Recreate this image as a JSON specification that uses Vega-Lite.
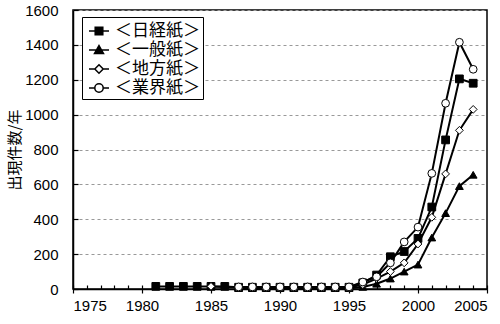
{
  "$schema": "https://vega.github.io/schema/vega-lite/v6.json",
  "width": 414,
  "height": 279,
  "autosize": {"type": "none"},
  "padding": {"left": 73, "top": 10, "right": 13, "bottom": 35},
  "background": "white",
  "config": {
    "view": {"stroke": "black", "strokeWidth": 1.5},
    "font": "Liberation Sans",
    "axis": {"domainColor": "black", "domainWidth": 1.5, "tickColor": "black", "tickWidth": 1.2, "labelColor": "black", "titleColor": "black", "labelFontSize": 15, "labelFont": "Liberation Sans"}
  },
  "data": {"values": [
    {"year": 1981, "series": "＜日経紙＞", "value": 15},
    {"year": 1982, "series": "＜日経紙＞", "value": 15},
    {"year": 1983, "series": "＜日経紙＞", "value": 15},
    {"year": 1984, "series": "＜日経紙＞", "value": 15},
    {"year": 1985, "series": "＜日経紙＞", "value": 15},
    {"year": 1986, "series": "＜日経紙＞", "value": 15},
    {"year": 1987, "series": "＜日経紙＞", "value": 10},
    {"year": 1988, "series": "＜日経紙＞", "value": 10},
    {"year": 1989, "series": "＜日経紙＞", "value": 10},
    {"year": 1990, "series": "＜日経紙＞", "value": 10},
    {"year": 1991, "series": "＜日経紙＞", "value": 10},
    {"year": 1992, "series": "＜日経紙＞", "value": 10},
    {"year": 1993, "series": "＜日経紙＞", "value": 10},
    {"year": 1994, "series": "＜日経紙＞", "value": 10},
    {"year": 1995, "series": "＜日経紙＞", "value": 10},
    {"year": 1996, "series": "＜日経紙＞", "value": 35},
    {"year": 1997, "series": "＜日経紙＞", "value": 80},
    {"year": 1998, "series": "＜日経紙＞", "value": 185},
    {"year": 1999, "series": "＜日経紙＞", "value": 215},
    {"year": 2000, "series": "＜日経紙＞", "value": 290},
    {"year": 2001, "series": "＜日経紙＞", "value": 470},
    {"year": 2002, "series": "＜日経紙＞", "value": 855},
    {"year": 2003, "series": "＜日経紙＞", "value": 1205},
    {"year": 2004, "series": "＜日経紙＞", "value": 1180},
    {"year": 1987, "series": "＜一般紙＞", "value": 5},
    {"year": 1988, "series": "＜一般紙＞", "value": 5},
    {"year": 1989, "series": "＜一般紙＞", "value": 5},
    {"year": 1990, "series": "＜一般紙＞", "value": 5},
    {"year": 1991, "series": "＜一般紙＞", "value": 5},
    {"year": 1992, "series": "＜一般紙＞", "value": 5},
    {"year": 1993, "series": "＜一般紙＞", "value": 5},
    {"year": 1994, "series": "＜一般紙＞", "value": 5},
    {"year": 1995, "series": "＜一般紙＞", "value": 5},
    {"year": 1996, "series": "＜一般紙＞", "value": 12},
    {"year": 1997, "series": "＜一般紙＞", "value": 30},
    {"year": 1998, "series": "＜一般紙＞", "value": 60},
    {"year": 1999, "series": "＜一般紙＞", "value": 100},
    {"year": 2000, "series": "＜一般紙＞", "value": 140},
    {"year": 2001, "series": "＜一般紙＞", "value": 295},
    {"year": 2002, "series": "＜一般紙＞", "value": 435},
    {"year": 2003, "series": "＜一般紙＞", "value": 590},
    {"year": 2004, "series": "＜一般紙＞", "value": 655},
    {"year": 1985, "series": "＜地方紙＞", "value": 15},
    {"year": 1987, "series": "＜地方紙＞", "value": 8},
    {"year": 1988, "series": "＜地方紙＞", "value": 8},
    {"year": 1989, "series": "＜地方紙＞", "value": 8},
    {"year": 1990, "series": "＜地方紙＞", "value": 8},
    {"year": 1991, "series": "＜地方紙＞", "value": 8},
    {"year": 1992, "series": "＜地方紙＞", "value": 8},
    {"year": 1993, "series": "＜地方紙＞", "value": 8},
    {"year": 1994, "series": "＜地方紙＞", "value": 8},
    {"year": 1995, "series": "＜地方紙＞", "value": 8},
    {"year": 1996, "series": "＜地方紙＞", "value": 25},
    {"year": 1997, "series": "＜地方紙＞", "value": 60},
    {"year": 1998, "series": "＜地方紙＞", "value": 100},
    {"year": 1999, "series": "＜地方紙＞", "value": 150},
    {"year": 2000, "series": "＜地方紙＞", "value": 258},
    {"year": 2001, "series": "＜地方紙＞", "value": 411},
    {"year": 2002, "series": "＜地方紙＞", "value": 660},
    {"year": 2003, "series": "＜地方紙＞", "value": 910},
    {"year": 2004, "series": "＜地方紙＞", "value": 1030},
    {"year": 1987, "series": "＜業界紙＞", "value": 12},
    {"year": 1988, "series": "＜業界紙＞", "value": 12},
    {"year": 1989, "series": "＜業界紙＞", "value": 12},
    {"year": 1990, "series": "＜業界紙＞", "value": 12},
    {"year": 1991, "series": "＜業界紙＞", "value": 12},
    {"year": 1992, "series": "＜業界紙＞", "value": 12},
    {"year": 1993, "series": "＜業界紙＞", "value": 12},
    {"year": 1994, "series": "＜業界紙＞", "value": 12},
    {"year": 1995, "series": "＜業界紙＞", "value": 12},
    {"year": 1996, "series": "＜業界紙＞", "value": 40},
    {"year": 1997, "series": "＜業界紙＞", "value": 70},
    {"year": 1998, "series": "＜業界紙＞", "value": 150},
    {"year": 1999, "series": "＜業界紙＞", "value": 270},
    {"year": 2000, "series": "＜業界紙＞", "value": 355},
    {"year": 2001, "series": "＜業界紙＞", "value": 663},
    {"year": 2002, "series": "＜業界紙＞", "value": 1065},
    {"year": 2003, "series": "＜業界紙＞", "value": 1415},
    {"year": 2004, "series": "＜業界紙＞", "value": 1260}
  ]},
  "resolve": {"axis": {"x": "independent"}},
  "layer": [
    {
      "mark": {"type": "line", "color": "black", "strokeWidth": 2},
      "encoding": {
        "x": {"field": "year", "type": "quantitative", "scale": {"domain": [1975, 2005], "nice": false, "zero": false},
          "axis": {"orient": "bottom", "values": [1975,1976,1977,1978,1979,1980,1981,1982,1983,1984,1985,1986,1987,1988,1989,1990,1991,1992,1993,1994,1995,1996,1997,1998,1999,2000,2001,2002,2003,2004,2005], "tickSize": -4, "ticks": true, "labels": false, "grid": false, "title": null, "domain": true}},
        "y": {"field": "value", "type": "quantitative", "scale": {"domain": [0, 1600], "nice": false},
          "axis": {"values": [0,200,400,600,800,1000,1200,1400,1600], "format": "d", "tickSize": -5, "labelPadding": 20, "grid": true, "gridColor": "#999999", "gridDash": [3, 3], "gridWidth": 1, "title": "出現件数/年", "titleFont": "Noto Sans CJK JP", "titleFontSize": 15, "titleFontWeight": "normal", "titlePadding": 2}},
        "detail": {"field": "series"}
      }
    },
    {
      "mark": {"type": "point", "filled": true, "stroke": "black", "strokeWidth": 1, "opacity": 1, "size": 60},
      "encoding": {
        "x": {"field": "year", "type": "quantitative", "scale": {"domain": [1975, 2005], "nice": false, "zero": false},
          "axis": {"orient": "bottom", "values": [1975,1980,1985,1990,1995,2000,2005], "format": "d", "ticks": true, "tickSize": 4, "labelPadding": 5, "grid": false, "title": null, "domain": false}},
        "y": {"field": "value", "type": "quantitative", "scale": {"domain": [0, 1600], "nice": false},
          "axis": {"values": [0,200,400,600,800,1000,1200,1400,1600], "format": "d", "tickSize": -5, "labelPadding": 20, "grid": true, "gridColor": "#999999", "gridDash": [3, 3], "gridWidth": 1, "title": "出現件数/年", "titleFont": "Noto Sans CJK JP", "titleFontSize": 15, "titleFontWeight": "normal", "titlePadding": 2}},
        "shape": {"field": "series", "type": "nominal",
          "sort": ["＜日経紙＞", "＜一般紙＞", "＜地方紙＞", "＜業界紙＞"],
          "scale": {"range": ["square", "triangle-up", "diamond", "circle"]},
          "legend": null
        },
        "fill": {"field": "series", "type": "nominal",
          "scale": {"domain": ["＜日経紙＞", "＜一般紙＞", "＜地方紙＞", "＜業界紙＞"], "range": ["black", "black", "white", "white"]},
          "legend": {"title": null, "orient": "none", "legendX": 9, "legendY": 7, "padding": 3, "symbolOffset": 3, "rowPadding": -2, "labelOffset": 5, "symbolSize": 400, "labelFont": "Noto Sans CJK JP", "labelFontSize": 17, "labelColor": "black", "strokeColor": "black", "fillColor": "white", "cornerRadius": 0,
            "symbolType": {"expr": "datum.value === '＜日経紙＞' ? 'M-1,0H1M-0.38,-0.38H0.38V0.38H-0.38Z' : datum.value === '＜一般紙＞' ? 'M-1,0H1M0,-0.45L0.45,0.35L-0.45,0.35Z' : datum.value === '＜地方紙＞' ? 'M-1,0H-0.42M0.42,0H1M0,-0.42L0.42,0L0,0.42L-0.42,0Z' : 'M-1,0H-0.42M0.42,0H1M0.42,0A0.42,0.42,0,1,1,-0.42,0A0.42,0.42,0,1,1,0.42,0Z'"},
            "encode": {"symbols": {"stroke": {"value": "black"}, "strokeWidth": {"value": 1.5}, "opacity": {"value": 1}}}
          }
        }
      }
    }
  ]
}
